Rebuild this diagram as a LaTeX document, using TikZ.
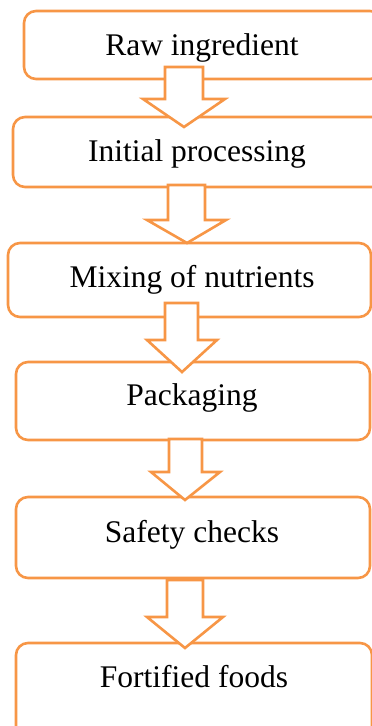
\documentclass[tikz,border=0pt]{standalone}
\usepackage{fontspec}
\setmainfont{Liberation Serif}
\definecolor{acc}{HTML}{F79646}
\tikzset{
  stepbox/.style={draw=acc, line width=2.6pt, rounded corners=12pt, fill=white},
  lbl/.style={anchor=base, inner sep=0pt, font=\fontsize{31.5}{36}\selectfont},
  blockarrow/.style={draw=acc, line width=2.6pt, fill=white, line join=miter}
}
% shaft-left, shaft-right, shaft-top, head-top, head-left, head-right, tip-x, tip-y
\newcommand\blkarrow[9]{%
  \draw[blockarrow] (#2,#4) -- (#2,#5) -- (#6,#5) -- (#8,#9) -- (#7,#5) -- (#3,#5) -- (#3,#4) -- cycle;
  \coordinate (#1) at (#8,#9);
}
\begin{document}
\begin{tikzpicture}[x=1pt,y=-1pt]
\useasboundingbox (0,0) rectangle (372,726);
% boxes
\draw[stepbox] (24,11) rectangle (382,79);
\coordinate (b1) at (203,45);
\draw[stepbox] (13,117) rectangle (384,187);
\coordinate (b2) at (198,152);
\draw[stepbox] (8,243) rectangle (371,317);
\coordinate (b3) at (190,280);
\draw[stepbox] (16,362) rectangle (370,440);
\coordinate (b4) at (193,401);
\draw[stepbox] (16,497) rectangle (370,578);
\coordinate (b5) at (193,537);
\draw[stepbox] (16,643) rectangle (372,745);
% labels
\node[lbl] (t1) at (202,55) {Raw ingredient};
\node[lbl] (t2) at (197,161) {Initial processing};
\node[lbl] (t3) at (192,287) {Mixing of nutrients};
\node[lbl] (t4) at (192,405) {Packaging};
\node[lbl] (t5) at (192,542) {Safety checks};
\node[lbl] (t6) at (194,687) {Fortified foods};
% arrows
\blkarrow{a1}{165}{203}{67}{99}{143}{225}{184}{127}
\blkarrow{a2}{168}{205}{185}{220}{147}{226}{187}{243}
\blkarrow{a3}{165}{198}{303}{340}{147}{217}{182}{372}
\blkarrow{a4}{169}{202}{439}{472}{151}{220}{185}{500}
\blkarrow{a5}{167}{203}{580}{617}{147}{223}{185}{648}
\end{tikzpicture}
\end{document}
